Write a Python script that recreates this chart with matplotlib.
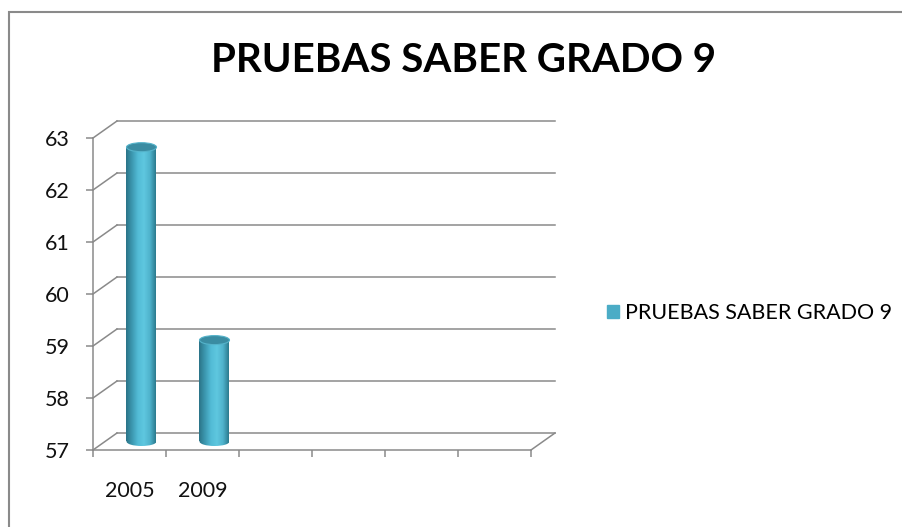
import numpy as np
import matplotlib.pyplot as plt
from matplotlib.patches import Rectangle, Ellipse, Patch
from matplotlib.colors import LinearSegmentedColormap

plt.rcParams["font.family"] = ["Lato", "DejaVu Sans"]

categories = ["2005", "2009", "", "", "", ""]
scores = [62.66, 58.95]
y_ticks = [57, 58, 59, 60, 61, 62, 63]
series_name = "PRUEBAS SABER GRADO 9"
chart_title = "PRUEBAS SABER GRADO 9"

W, H = 903, 527
fig = plt.figure(figsize=(W / 100, H / 100), dpi=100)
ax = fig.add_axes([93 / W, 77 / H, 438 / W, 312 / H])
n = len(categories)
ymin, ymax = y_ticks[0], y_ticks[-1]

# pixel -> data scale, used for the fake 3d depth
px_x = 438 / n
px_y = 312 / (ymax - ymin)
dx, dy = 24 / px_x, 17 / px_y

grid_col = "#8a8a8a"
lw = 1.1

# back wall gridlines + side wall diagonals
for v in y_ticks:
    ax.plot([dx, n + dx], [v + dy, v + dy], color=grid_col, lw=lw, clip_on=False, zorder=1)
    ax.plot([0, dx], [v, v + dy], color=grid_col, lw=lw, clip_on=False, zorder=1)
# floor right edge
ax.plot([n, n + dx], [ymin, ymin + dy], color=grid_col, lw=lw, clip_on=False, zorder=1)

# cylinders
cmap = LinearSegmentedColormap.from_list(
    "cyl", ["#2a7387", "#3c98b0", "#52bcd6", "#5fc7df", "#4fb3cc", "#2b7a8e"])
grad = np.linspace(0, 1, 256).reshape(1, -1)
bw = 30 / px_x
eh = 9 / px_y
for i, v in enumerate(scores):
    cx = i + 0.5 + dx / 2
    base = ymin + dy / 2
    top = v + dy / 2
    body = Rectangle((cx - bw / 2, base), bw, top - base, fc="none", ec="none")
    ax.add_patch(body)
    im = ax.imshow(grad, cmap=cmap, aspect="auto", zorder=3,
                   extent=[cx - bw / 2, cx + bw / 2, base, top])
    im.set_clip_path(body)
    bot = Ellipse((cx, base), bw, eh, fc="none", ec="none")
    ax.add_patch(bot)
    im2 = ax.imshow(grad, cmap=cmap, aspect="auto", zorder=3,
                    extent=[cx - bw / 2, cx + bw / 2, base - eh, base + eh])
    im2.set_clip_path(bot)
    ax.add_patch(Ellipse((cx, top), bw, eh, fc="#3a8ca2", ec="#55b3ca", lw=0.8, zorder=4))

ax.set_xlim(0, n)
ax.set_ylim(ymin, ymax)

# axes: front floor edge + vertical axis
for s in ["top", "right"]:
    ax.spines[s].set_visible(False)
for s in ["left", "bottom"]:
    ax.spines[s].set_color(grid_col)
    ax.spines[s].set_linewidth(lw)
ax.set_yticks(y_ticks)
ax.set_yticklabels([str(t) for t in y_ticks])
ax.set_xticks(np.arange(n + 1))
ax.set_xticklabels([])
ax.set_xticks(np.arange(n) + 0.5, minor=True)
ax.set_xticklabels(categories, minor=True)
ax.tick_params(axis="y", length=5, width=lw, color=grid_col, pad=12,
               labelsize=15.5, labelcolor="#111111")
ax.tick_params(axis="x", which="major", length=5, width=lw, color=grid_col)
ax.tick_params(axis="x", which="minor", length=0, pad=22,
               labelsize=15.5, labelcolor="#111111")

fig.text(464 / W, 1 - 61 / H, chart_title, ha="center", va="center",
         fontsize=29, fontweight="bold", color="black")

fig.legend(handles=[Patch(color="#4bacc6")], labels=[series_name],
           loc="center left", bbox_to_anchor=(607 / W, 1 - 313 / H),
           frameon=False, handlelength=0.55, handleheight=0.55,
           handletextpad=0.3, borderpad=0, borderaxespad=0, fontsize=15.5)

# outer chart frame (cut by the image edge)
fig.add_artist(Rectangle((9 / W, -0.1), 1.2, 1.1 - 12 / H, transform=fig.transFigure,
                         fill=False, ec="#8a8a8a", lw=1.5))

fig.savefig("out.png", dpi=100)
